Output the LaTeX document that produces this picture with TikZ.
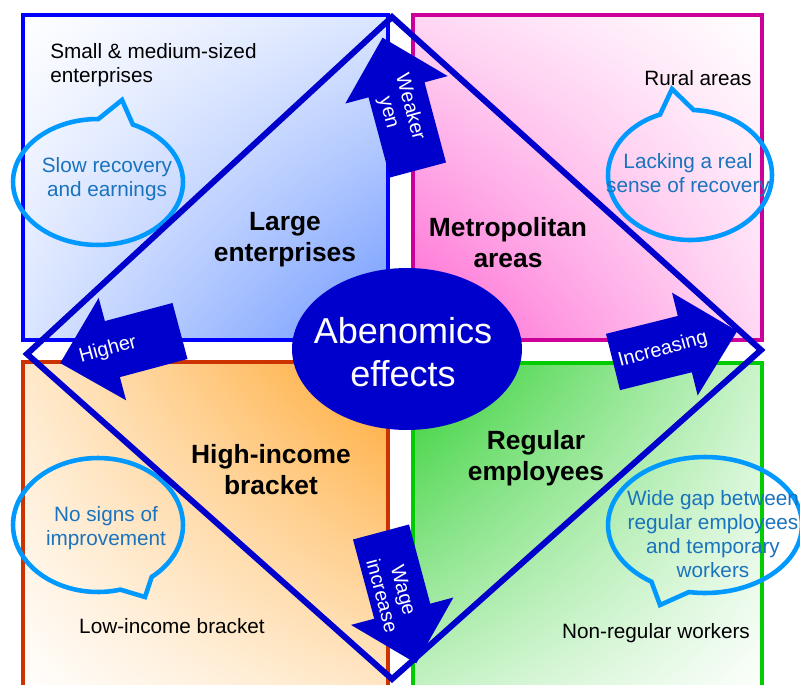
\documentclass[tikz,border=0pt]{standalone}
\usepackage{fontspec}
\setmainfont{Liberation Sans}
\usetikzlibrary{shapes.geometric, shapes.callouts, shadings}

\definecolor{deepblue}{RGB}{0,0,204}
\definecolor{edgeblue}{RGB}{0,0,255}
\definecolor{edgemagenta}{RGB}{204,0,153}
\definecolor{edgerust}{RGB}{204,51,0}
\definecolor{edgegreen}{RGB}{0,204,0}
\definecolor{fillblue}{RGB}{110,152,255}
\definecolor{fillpink}{RGB}{255,100,210}
\definecolor{fillorange}{RGB}{255,168,50}
\definecolor{fillgreen}{RGB}{50,208,50}
\definecolor{bubbleline}{RGB}{0,153,255}
\definecolor{bubbleink}{RGB}{25,115,190}

% block arrow: back centre x, y, angle, length
\newcommand{\blockarrow}[4]{%
  \fill[deepblue, shift={(#1,#2)}, rotate=#3]
    (0,-29) -- ({#4-54},-29) -- ({#4-54},-53) -- (#4,0) -- ({#4-54},53) -- ({#4-54},29) -- (0,29) -- cycle;}

\begin{document}
\begin{tikzpicture}[x=0.02cm, y=-0.02cm,
  plain/.style={font=\fontsize{11.8}{13.5}\selectfont, inner sep=0pt},
  heavy/.style={font=\bfseries\fontsize{15}{17.6}\selectfont, align=center, inner sep=0pt},
  note/.style={font=\fontsize{11.8}{13.8}\selectfont, text=bubbleink, align=center, inner sep=0pt},
  bubble/.style={ellipse callout, draw=bubbleline, line width=2.6pt, inner sep=0pt, callout pointer arc=24},
  arrowtext/.style={font=\fontsize{11.3}{12.6}\selectfont, text=white, align=center, inner sep=0pt}]

  \useasboundingbox (0,0) rectangle (800,685);
  \clip (0,0) rectangle (800,685);

  % four quadrants
  \shadedraw[draw=edgeblue, line width=2pt, upper left=white, upper right=fillblue!25!white,
    lower left=fillblue!25!white, lower right=fillblue] (23,15) rectangle (388,340);
  \shadedraw[draw=edgemagenta, line width=2pt, upper left=fillpink!25!white, upper right=white,
    lower left=fillpink, lower right=fillpink!25!white] (413,15) rectangle (762,340);
  \shadedraw[draw=edgerust, line width=2pt, upper left=fillorange!25!white, upper right=fillorange,
    lower left=white, lower right=fillorange!25!white] (23,362) rectangle (388,705);
  \shadedraw[draw=edgegreen, line width=2pt, upper left=fillgreen, upper right=fillgreen!25!white,
    lower left=fillgreen!25!white, lower right=white] (413,363) rectangle (762,705);

  % plain labels
  \node[plain, align=left, anchor=west] (smalltxt) at (50,65) {Small \& medium-sized\\enterprises};
  \node[plain] (ruraltxt) at (698,78) {Rural areas};
  \node[plain] (lowtxt) at (172,626) {Low-income bracket};
  \node[plain] (nonregtxt) at (656,633) {Non-regular workers};

  \node[heavy] (largetxt) at (285,240) {Large\\enterprises};
  \node[heavy] (metrotxt) at (508,243) {Metropolitan\\areas};
  \node[heavy] (hightxt) at (271,470) {High-income\\bracket};
  \node[heavy] (regtxt) at (536,458) {Regular\\employees};

  % speech bubbles
  \node[bubble, minimum width=3.4cm, minimum height=2.52cm, callout absolute pointer={(122,100)}] (slowbub) at (98,182) {};
  \node[note] (slowtxt) at (107,179) {Slow recovery\\and earnings};
  \node[bubble, minimum width=3.28cm, minimum height=2.6cm, callout absolute pointer={(672,89)}] (lackbub) at (690,175) {};
  \node[note] (lacktxt) at (688,175) {Lacking a real\\sense of recovery};
  \node[bubble, minimum width=3.4cm, minimum height=2.68cm, callout absolute pointer={(145,597)}] (nosignbub) at (98,525) {};
  \node[note] (nosigntxt) at (106,528) {No signs of\\improvement};
  \node[bubble, minimum width=3.88cm, minimum height=2.72cm, callout absolute pointer={(660,605)}] (gapbub) at (705,525) {};
  \node[note] (gaptxt) at (713,534) {Wide gap between\\regular employees\\and temporary\\workers};

  % arrows
  \blockarrow{418}{170}{105}{137}
  \blockarrow{180}{331}{195}{124}
  \blockarrow{613}{362}{14}{128}
  \blockarrow{381}{532}{-75}{136}
  \node[arrowtext, rotate=-75] (weakertxt) at (399,110) {Weaker\\yen};
  \node[arrowtext, rotate=15] (highertxt) at (108,350) {Higher};
  \node[arrowtext, rotate=15] (increasingtxt) at (663,350) {Increasing};
  \node[arrowtext, rotate=-75] (wagetxt) at (393,593) {Wage\\increase};

  % diamond
  \draw[deepblue, line width=3.4pt] (392,17) -- (761,350) -- (392,679) -- (27,354) -- cycle;

  % centre
  \node[ellipse, fill=deepblue, minimum width=4.6cm, minimum height=3.24cm, inner sep=0pt] (abeoval) at (407,349) {};
  \node[text=white, font=\fontsize{20.5}{24.5}\selectfont, align=center, inner sep=0pt] (abetxt) at (403,352) {Abenomics\\effects};
\end{tikzpicture}
\end{document}
